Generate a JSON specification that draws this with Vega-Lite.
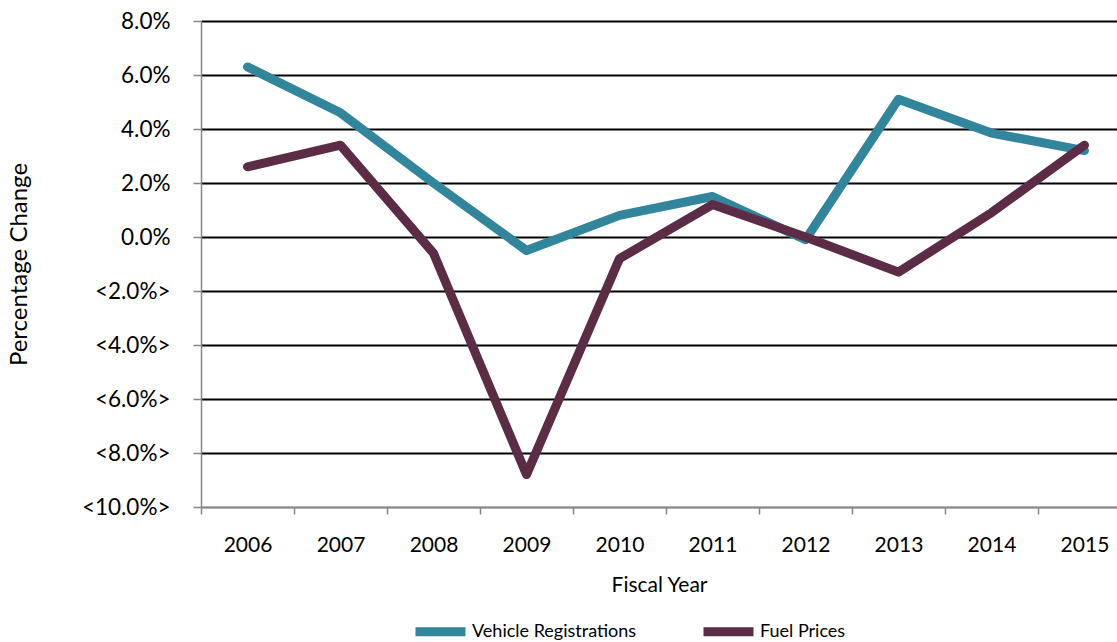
{
  "$schema": "https://vega.github.io/schema/vega-lite/v6.json",
  "width": 916,
  "height": 486,
  "autosize": {"type": "none"},
  "padding": {"left": 201, "top": 21, "right": 0, "bottom": 135},
  "background": "white",
  "config": {
    "view": {"stroke": null},
    "font": "Lato",
    "axis": {"labelFont": "Lato", "titleFont": "Lato", "labelColor": "black", "titleColor": "black", "titleFontWeight": "normal"}
  },
  "data": {
    "values": [
      {"year": 2006, "series": "Vehicle Registrations", "value": 6.3},
      {"year": 2007, "series": "Vehicle Registrations", "value": 4.6},
      {"year": 2008, "series": "Vehicle Registrations", "value": 2.0},
      {"year": 2009, "series": "Vehicle Registrations", "value": -0.5},
      {"year": 2010, "series": "Vehicle Registrations", "value": 0.8},
      {"year": 2011, "series": "Vehicle Registrations", "value": 1.5},
      {"year": 2012, "series": "Vehicle Registrations", "value": -0.1},
      {"year": 2013, "series": "Vehicle Registrations", "value": 5.1},
      {"year": 2014, "series": "Vehicle Registrations", "value": 3.85},
      {"year": 2015, "series": "Vehicle Registrations", "value": 3.2},
      {"year": 2006, "series": "Fuel Prices", "value": 2.6},
      {"year": 2007, "series": "Fuel Prices", "value": 3.4},
      {"year": 2008, "series": "Fuel Prices", "value": -0.6},
      {"year": 2009, "series": "Fuel Prices", "value": -8.8},
      {"year": 2010, "series": "Fuel Prices", "value": -0.8},
      {"year": 2011, "series": "Fuel Prices", "value": 1.2},
      {"year": 2012, "series": "Fuel Prices", "value": 0.0},
      {"year": 2013, "series": "Fuel Prices", "value": -1.3},
      {"year": 2014, "series": "Fuel Prices", "value": 0.9},
      {"year": 2015, "series": "Fuel Prices", "value": 3.4}
    ]
  },
  "mark": {"type": "line", "strokeWidth": 9, "strokeCap": "round", "strokeJoin": "round"},
  "encoding": {
    "x": {
      "field": "year",
      "type": "quantitative",
      "scale": {"domain": [2005.5, 2015.35], "nice": false, "zero": false},
      "axis": {
        "title": "Fiscal Year",
        "titleFontSize": 21,
        "titlePadding": 19,
        "values": [2006, 2007, 2008, 2009, 2010, 2011, 2012, 2013, 2014, 2015],
        "format": "d",
        "labelFontSize": 21,
        "labelPadding": 20,
        "tickOffset": -46.5,
        "labelOffset": 46.5,
        "tickSize": 7,
        "tickColor": "#868686",
        "tickWidth": 1.5,
        "domainColor": "#868686",
        "domainWidth": 1.5,
        "grid": false,
        "labelFlush": false,
        "labelOverlap": false
      }
    },
    "y": {
      "field": "value",
      "type": "quantitative",
      "scale": {"domain": [-10, 8], "nice": false},
      "axis": {
        "title": "Percentage Change",
        "titleFontSize": 24,
        "titlePadding": 50,
        "values": [-10, -8, -6, -4, -2, 0, 2, 4, 6, 8],
        "labelExpr": "datum.value < 0 ? '<' + format(-datum.value, '.1f') + '%>' : format(datum.value, '.1f') + '%'",
        "labelFontSize": 22.5,
        "labelPadding": 23,
        "tickSize": 8,
        "tickColor": "#868686",
        "tickWidth": 1.5,
        "domainColor": "#868686",
        "domainWidth": 1.5,
        "grid": true,
        "gridColor": {"condition": {"test": "datum.value === -10", "value": "#868686"}, "value": "black"},
        "gridWidth": 2,
        "labelOverlap": false
      }
    },
    "color": {
      "field": "series",
      "type": "nominal",
      "scale": {"domain": ["Vehicle Registrations", "Fuel Prices"], "range": ["#31869C", "#5C2C46"]},
      "legend": {
        "title": null,
        "orient": "none",
        "legendX": 210,
        "legendY": 581,
        "direction": "horizontal",
        "symbolType": "stroke",
        "symbolSize": 2500,
        "symbolStrokeWidth": 9,
        "labelFontSize": 18,
        "labelFont": "Lato",
        "labelColor": "black",
        "labelOffset": 2,
        "labelLimit": 400,
        "columnPadding": 48
      }
    }
  }
}
